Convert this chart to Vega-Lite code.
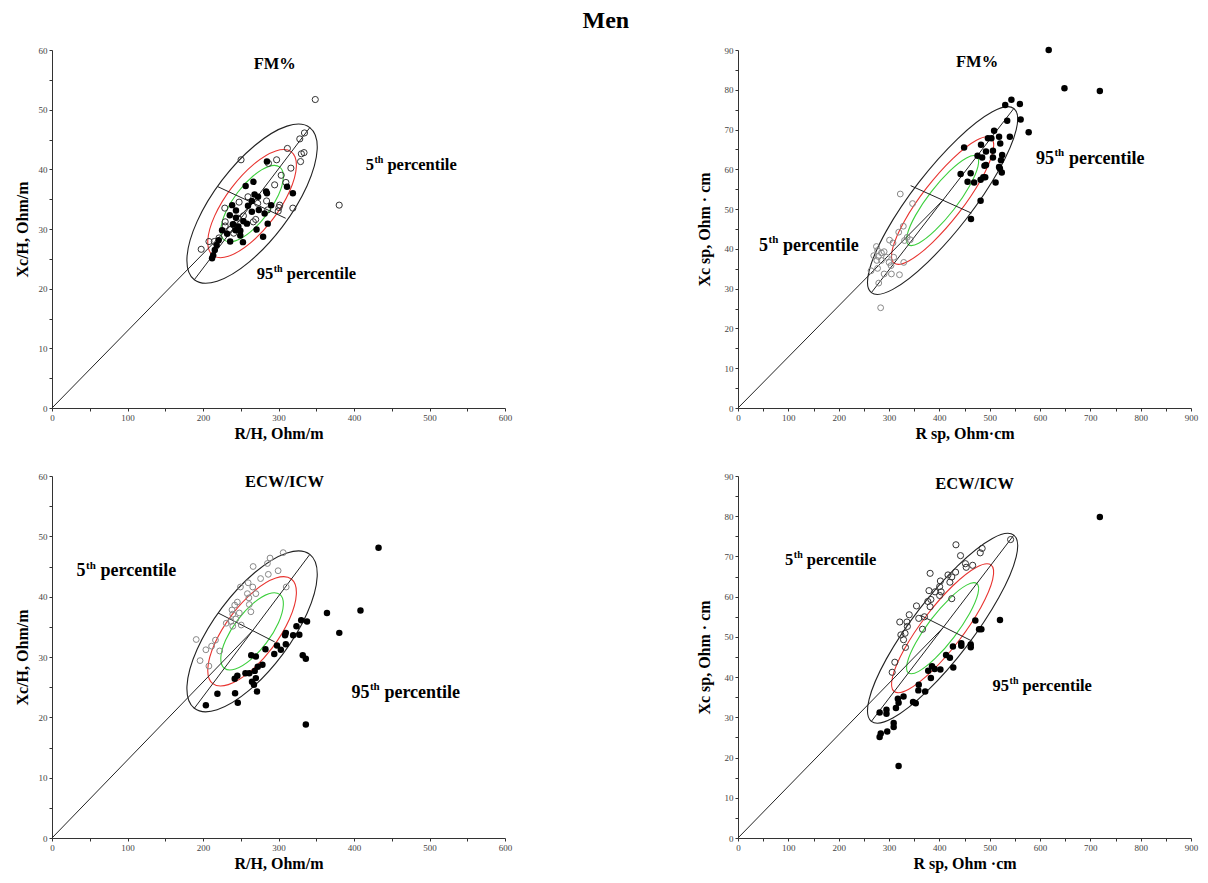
{
"$schema":"https://vega.github.io/schema/vega-lite/v6.json",
"background":"white",
"padding":{"left":14,"top":9,"right":5,"bottom":5},
"title":{"text":"Men","font":"Liberation Serif","fontSize":24,"fontWeight":"bold","color":"#000","anchor":"middle","offset":13},
"config":{"view":{"stroke":null},"axis":{"grid":false,"domainColor":"#333","tickColor":"#333","tickSize":3,"labelFont":"Liberation Serif","labelFontSize":9,"labelColor":"#444","labelPadding":2,"labelFlush":false,"labelOverlap":false,"titleFont":"Liberation Serif","titleFontSize":16,"titleFontWeight":"bold","titleColor":"#000"}},
"columns":2,
"spacing":{"row":68,"column":233},
"bounds":"flush",
"datasets":{
"ell_rh":[
{"lv":"95","i":0,"x":341.5,"y":47.0},{"lv":"95","i":1,"x":351.25,"y":43.35},{"lv":"95","i":2,"x":337.89,"y":37.26},{"lv":"95","i":3,"x":305.0,"y":30.36},{"lv":"95","i":4,"x":261.39,"y":24.5},{"lv":"95","i":5,"x":218.75,"y":21.26},{"lv":"95","i":6,"x":188.5,"y":21.5},{"lv":"95","i":7,"x":178.75,"y":25.15},{"lv":"95","i":8,"x":192.11,"y":31.24},{"lv":"95","i":9,"x":225.0,"y":38.14},{"lv":"95","i":10,"x":268.61,"y":44.0},{"lv":"95","i":11,"x":311.25,"y":47.24},
{"lv":"75","i":0,"x":317.0,"y":42.92},{"lv":"75","i":1,"x":323.65,"y":40.44},{"lv":"75","i":2,"x":314.57,"y":36.3},{"lv":"75","i":3,"x":292.2,"y":31.6},{"lv":"75","i":4,"x":262.55,"y":27.62},{"lv":"75","i":5,"x":233.55,"y":25.42},{"lv":"75","i":6,"x":212.98,"y":25.58},{"lv":"75","i":7,"x":206.35,"y":28.06},{"lv":"75","i":8,"x":215.43,"y":32.2},{"lv":"75","i":9,"x":237.8,"y":36.9},{"lv":"75","i":10,"x":267.45,"y":40.88},{"lv":"75","i":11,"x":296.45,"y":43.08},
{"lv":"50","i":0,"x":301.72,"y":40.37},{"lv":"50","i":1,"x":306.4,"y":38.62},{"lv":"50","i":2,"x":299.99,"y":35.69},{"lv":"50","i":3,"x":284.2,"y":32.38},{"lv":"50","i":4,"x":263.27,"y":29.57},{"lv":"50","i":5,"x":242.8,"y":28.01},{"lv":"50","i":6,"x":228.28,"y":28.13},{"lv":"50","i":7,"x":223.6,"y":29.88},{"lv":"50","i":8,"x":230.01,"y":32.81},{"lv":"50","i":9,"x":245.8,"y":36.12},{"lv":"50","i":10,"x":266.73,"y":38.93},{"lv":"50","i":11,"x":287.2,"y":40.49}
],
"ell_sp":[
{"lv":"95","i":0,"x":548.0,"y":75.3},{"lv":"95","i":1,"x":552.67,"y":69.91},{"lv":"95","i":2,"x":518.17,"y":59.77},{"lv":"95","i":3,"x":453.75,"y":47.58},{"lv":"95","i":4,"x":376.67,"y":36.62},{"lv":"95","i":5,"x":307.59,"y":29.82},{"lv":"95","i":6,"x":265.0,"y":29.0},{"lv":"95","i":7,"x":260.33,"y":34.39},{"lv":"95","i":8,"x":294.83,"y":44.53},{"lv":"95","i":9,"x":359.25,"y":56.72},{"lv":"95","i":10,"x":436.33,"y":67.68},{"lv":"95","i":11,"x":505.41,"y":74.48},
{"lv":"75","i":0,"x":502.72,"y":67.89},{"lv":"75","i":1,"x":505.9,"y":64.23},{"lv":"75","i":2,"x":482.44,"y":57.33},{"lv":"75","i":3,"x":438.63,"y":49.04},{"lv":"75","i":4,"x":386.22,"y":41.59},{"lv":"75","i":5,"x":339.24,"y":36.97},{"lv":"75","i":6,"x":310.28,"y":36.41},{"lv":"75","i":7,"x":307.1,"y":40.07},{"lv":"75","i":8,"x":330.56,"y":46.97},{"lv":"75","i":9,"x":374.37,"y":55.26},{"lv":"75","i":10,"x":426.78,"y":62.71},{"lv":"75","i":11,"x":473.76,"y":67.33},
{"lv":"50","i":0,"x":474.42,"y":63.26},{"lv":"50","i":1,"x":476.66,"y":60.67},{"lv":"50","i":2,"x":460.1,"y":55.81},{"lv":"50","i":3,"x":429.18,"y":49.96},{"lv":"50","i":4,"x":392.18,"y":44.7},{"lv":"50","i":5,"x":359.02,"y":41.43},{"lv":"50","i":6,"x":338.58,"y":41.04},{"lv":"50","i":7,"x":336.34,"y":43.63},{"lv":"50","i":8,"x":352.9,"y":48.49},{"lv":"50","i":9,"x":383.82,"y":54.34},{"lv":"50","i":10,"x":420.82,"y":59.6},{"lv":"50","i":11,"x":454.0,"y":62.87}
],
"seg":[
{"p":1,"s":"o","i":0,"x":0,"y":0},{"p":1,"s":"o","i":1,"x":265,"y":34.25},{"p":1,"s":"a","i":0,"x":188.5,"y":21.5},{"p":1,"s":"a","i":1,"x":341.5,"y":47.0},{"p":1,"s":"b","i":0,"x":219.5,"y":37.1},{"p":1,"s":"b","i":1,"x":309.5,"y":31.8},
{"p":2,"s":"o","i":0,"x":0,"y":0},{"p":2,"s":"o","i":1,"x":406.5,"y":52.15},{"p":2,"s":"a","i":0,"x":265,"y":29.0},{"p":2,"s":"a","i":1,"x":548,"y":75.3},{"p":2,"s":"b","i":0,"x":343,"y":55.9},{"p":2,"s":"b","i":1,"x":463.7,"y":49.0},
{"p":3,"s":"o","i":0,"x":0,"y":0},{"p":3,"s":"o","i":1,"x":265,"y":34.25},{"p":3,"s":"a","i":0,"x":188.5,"y":21.5},{"p":3,"s":"a","i":1,"x":341.5,"y":47.0},{"p":3,"s":"b","i":0,"x":220,"y":37.3},{"p":3,"s":"b","i":1,"x":295,"y":32.5},
{"p":4,"s":"o","i":0,"x":0,"y":0},{"p":4,"s":"o","i":1,"x":406.5,"y":52.15},{"p":4,"s":"a","i":0,"x":265,"y":29.0},{"p":4,"s":"a","i":1,"x":548,"y":75.3},{"p":4,"s":"b","i":0,"x":362,"y":55.4},{"p":4,"s":"b","i":1,"x":466,"y":48.9}
],
"pts":[
{"p":1,"f":0,"x":348.7,"y":51.7},{"p":1,"f":0,"x":380.4,"y":34.0},{"p":1,"f":0,"x":334.4,"y":46.1},{"p":1,"f":0,"x":328.2,"y":45.1},{"p":1,"f":0,"x":311.8,"y":43.5},{"p":1,"f":0,"x":330.3,"y":42.6},{"p":1,"f":0,"x":333.8,"y":42.8},{"p":1,"f":0,"x":329.2,"y":41.3},{"p":1,"f":0,"x":250.4,"y":41.6},{"p":1,"f":0,"x":286.7,"y":41.0},{"p":1,"f":0,"x":297.5,"y":41.6},{"p":1,"f":0,"x":316.4,"y":40.2},{"p":1,"f":0,"x":303.6,"y":39.0},{"p":1,"f":0,"x":309.8,"y":37.8},{"p":1,"f":0,"x":294.9,"y":37.4},{"p":1,"f":0,"x":319.0,"y":33.5},{"p":1,"f":0,"x":301.6,"y":34.0},{"p":1,"f":0,"x":300.6,"y":33.6},{"p":1,"f":0,"x":299.6,"y":33.0},{"p":1,"f":0,"x":284.2,"y":34.7},{"p":1,"f":0,"x":272.4,"y":34.3},{"p":1,"f":0,"x":259.6,"y":35.4},{"p":1,"f":0,"x":247.8,"y":34.5},{"p":1,"f":0,"x":228.9,"y":33.5},{"p":1,"f":0,"x":229.4,"y":31.2},{"p":1,"f":0,"x":229.4,"y":30.5},{"p":1,"f":0,"x":235.5,"y":29.9},{"p":1,"f":0,"x":240.7,"y":29.3},{"p":1,"f":0,"x":269.8,"y":31.6},{"p":1,"f":0,"x":266.6,"y":31.2},{"p":1,"f":0,"x":197.6,"y":26.6},{"p":1,"f":0,"x":207.9,"y":27.9},{"p":1,"f":0,"x":215.0,"y":27.9},{"p":1,"f":0,"x":221.2,"y":28.5},{"p":1,"f":0,"x":246.8,"y":31.8},{"p":1,"f":0,"x":240.7,"y":30.7},{"p":1,"f":0,"x":253.5,"y":32.2},{"p":1,"f":0,"x":285.7,"y":33.2},
{"p":1,"f":1,"x":284.7,"y":41.3},{"p":1,"f":1,"x":283.6,"y":36.3},{"p":1,"f":1,"x":284.7,"y":36.0},{"p":1,"f":1,"x":256.5,"y":37.2},{"p":1,"f":1,"x":266.8,"y":37.9},{"p":1,"f":1,"x":311.3,"y":37.1},{"p":1,"f":1,"x":319.0,"y":36.0},{"p":1,"f":1,"x":268.3,"y":35.8},{"p":1,"f":1,"x":272.9,"y":35.4},{"p":1,"f":1,"x":264.7,"y":34.7},{"p":1,"f":1,"x":259.6,"y":33.9},{"p":1,"f":1,"x":238.6,"y":34.0},{"p":1,"f":1,"x":290.3,"y":34.0},{"p":1,"f":1,"x":273.9,"y":33.2},{"p":1,"f":1,"x":281.6,"y":32.6},{"p":1,"f":1,"x":264.7,"y":32.9},{"p":1,"f":1,"x":243.7,"y":33.1},{"p":1,"f":1,"x":235.5,"y":32.3},{"p":1,"f":1,"x":243.7,"y":31.9},{"p":1,"f":1,"x":253.5,"y":31.3},{"p":1,"f":1,"x":258.2,"y":30.9},{"p":1,"f":1,"x":239.6,"y":30.8},{"p":1,"f":1,"x":246.8,"y":30.4},{"p":1,"f":1,"x":270.9,"y":29.9},{"p":1,"f":1,"x":285.7,"y":30.9},{"p":1,"f":1,"x":225.3,"y":29.8},{"p":1,"f":1,"x":232.0,"y":29.2},{"p":1,"f":1,"x":249.4,"y":29.7},{"p":1,"f":1,"x":249.4,"y":28.9},{"p":1,"f":1,"x":236.0,"y":27.9},{"p":1,"f":1,"x":252.9,"y":27.8},{"p":1,"f":1,"x":279.6,"y":28.7},{"p":1,"f":1,"x":220.7,"y":28.1},{"p":1,"f":1,"x":218.1,"y":27.3},{"p":1,"f":1,"x":215.6,"y":26.5},{"p":1,"f":1,"x":213.5,"y":25.6},{"p":1,"f":1,"x":212.0,"y":25.1},{"p":1,"f":1,"x":243.2,"y":29.8},
{"p":2,"f":1,"x":617.3,"y":90.0},{"p":2,"f":1,"x":648.6,"y":80.4},{"p":2,"f":1,"x":718.9,"y":79.7},{"p":2,"f":1,"x":543.2,"y":77.5},{"p":2,"f":1,"x":530.9,"y":76.2},{"p":2,"f":1,"x":560.0,"y":76.4},{"p":2,"f":1,"x":534.8,"y":72.2},{"p":2,"f":1,"x":561.5,"y":72.5},{"p":2,"f":1,"x":577.5,"y":69.3},{"p":2,"f":1,"x":508.8,"y":69.7},{"p":2,"f":1,"x":518.7,"y":68.2},{"p":2,"f":1,"x":540.1,"y":68.2},{"p":2,"f":1,"x":496.6,"y":67.8},{"p":2,"f":1,"x":503.4,"y":67.8},{"p":2,"f":1,"x":521.0,"y":66.5},{"p":2,"f":1,"x":482.8,"y":66.2},{"p":2,"f":1,"x":449.2,"y":65.5},{"p":2,"f":1,"x":492.7,"y":64.5},{"p":2,"f":1,"x":506.5,"y":64.7},{"p":2,"f":1,"x":475.9,"y":63.4},{"p":2,"f":1,"x":485.1,"y":63.0},{"p":2,"f":1,"x":524.8,"y":63.6},{"p":2,"f":1,"x":506.5,"y":63.0},{"p":2,"f":1,"x":522.5,"y":62.3},{"p":2,"f":1,"x":492.7,"y":61.1},{"p":2,"f":1,"x":489.7,"y":60.9},{"p":2,"f":1,"x":518.7,"y":60.6},{"p":2,"f":1,"x":520.3,"y":60.2},{"p":2,"f":1,"x":524.1,"y":59.2},{"p":2,"f":1,"x":442.3,"y":58.8},{"p":2,"f":1,"x":462.2,"y":59.0},{"p":2,"f":1,"x":487.4,"y":58.0},{"p":2,"f":1,"x":491.2,"y":58.0},{"p":2,"f":1,"x":482.0,"y":57.4},{"p":2,"f":1,"x":456.1,"y":56.9},{"p":2,"f":1,"x":469.1,"y":56.7},{"p":2,"f":1,"x":511.8,"y":56.7},{"p":2,"f":1,"x":482.0,"y":52.1},{"p":2,"f":1,"x":462.9,"y":47.5},
{"p":2,"f":0,"x":322.4,"y":53.8},{"p":2,"f":0,"x":346.8,"y":51.4},{"p":2,"f":0,"x":328.5,"y":45.7},{"p":2,"f":0,"x":319.3,"y":44.2},{"p":2,"f":0,"x":301.0,"y":42.2},{"p":2,"f":0,"x":307.9,"y":41.5},{"p":2,"f":0,"x":336.1,"y":42.9},{"p":2,"f":0,"x":342.2,"y":42.3},{"p":2,"f":0,"x":330.8,"y":42.1},{"p":2,"f":0,"x":275.0,"y":40.6},{"p":2,"f":0,"x":277.3,"y":39.6},{"p":2,"f":0,"x":285.0,"y":39.0},{"p":2,"f":0,"x":290.3,"y":39.3},{"p":2,"f":0,"x":269.7,"y":38.3},{"p":2,"f":0,"x":278.8,"y":38.1},{"p":2,"f":0,"x":294.9,"y":37.9},{"p":2,"f":0,"x":309.4,"y":37.9},{"p":2,"f":0,"x":285.0,"y":37.1},{"p":2,"f":0,"x":275.8,"y":37.1},{"p":2,"f":0,"x":300.2,"y":36.6},{"p":2,"f":0,"x":329.3,"y":36.6},{"p":2,"f":0,"x":304.0,"y":35.8},{"p":2,"f":0,"x":264.3,"y":34.5},{"p":2,"f":0,"x":277.3,"y":35.1},{"p":2,"f":0,"x":290.3,"y":33.7},{"p":2,"f":0,"x":304.8,"y":33.7},{"p":2,"f":0,"x":320.8,"y":33.5},{"p":2,"f":0,"x":279.6,"y":31.4},{"p":2,"f":0,"x":283.4,"y":25.2},
{"p":3,"f":0,"x":306.2,"y":47.3},{"p":3,"f":0,"x":288.8,"y":46.4},{"p":3,"f":0,"x":285.3,"y":45.5},{"p":3,"f":0,"x":266.4,"y":45.0},{"p":3,"f":0,"x":299.5,"y":44.3},{"p":3,"f":0,"x":286.5,"y":43.7},{"p":3,"f":0,"x":276.3,"y":43.0},{"p":3,"f":0,"x":259.8,"y":42.3},{"p":3,"f":0,"x":249.6,"y":41.6},{"p":3,"f":0,"x":265.9,"y":41.6},{"p":3,"f":0,"x":270.0,"y":40.5},{"p":3,"f":0,"x":258.8,"y":40.5},{"p":3,"f":0,"x":310.2,"y":41.6},{"p":3,"f":0,"x":260.8,"y":39.8},{"p":3,"f":0,"x":245.5,"y":39.1},{"p":3,"f":0,"x":242.0,"y":38.6},{"p":3,"f":0,"x":261.3,"y":38.7},{"p":3,"f":0,"x":238.4,"y":37.8},{"p":3,"f":0,"x":248.1,"y":37.3},{"p":3,"f":0,"x":263.4,"y":37.5},{"p":3,"f":0,"x":239.4,"y":37.1},{"p":3,"f":0,"x":243.5,"y":36.3},{"p":3,"f":0,"x":236.9,"y":35.9},{"p":3,"f":0,"x":230.8,"y":35.6},{"p":3,"f":0,"x":250.6,"y":35.3},{"p":3,"f":0,"x":239.4,"y":35.1},{"p":3,"f":0,"x":191.0,"y":32.9},{"p":3,"f":0,"x":216.5,"y":32.8},{"p":3,"f":0,"x":211.4,"y":31.8},{"p":3,"f":0,"x":203.8,"y":31.2},{"p":3,"f":0,"x":222.1,"y":31.0},{"p":3,"f":0,"x":196.1,"y":29.4},{"p":3,"f":0,"x":207.8,"y":28.5},
{"p":3,"f":1,"x":432.5,"y":48.1},{"p":3,"f":1,"x":408.6,"y":37.7},{"p":3,"f":1,"x":364.2,"y":37.3},{"p":3,"f":1,"x":380.5,"y":34.0},{"p":3,"f":1,"x":337.8,"y":35.9},{"p":3,"f":1,"x":330.1,"y":36.1},{"p":3,"f":1,"x":323.8,"y":35.1},{"p":3,"f":1,"x":319.4,"y":33.6},{"p":3,"f":1,"x":327.6,"y":33.7},{"p":3,"f":1,"x":309.7,"y":34.0},{"p":3,"f":1,"x":308.7,"y":33.6},{"p":3,"f":1,"x":309.7,"y":32.1},{"p":3,"f":1,"x":303.1,"y":31.2},{"p":3,"f":1,"x":298.0,"y":31.9},{"p":3,"f":1,"x":294.4,"y":30.5},{"p":3,"f":1,"x":332.1,"y":30.3},{"p":3,"f":1,"x":336.2,"y":29.7},{"p":3,"f":1,"x":282.7,"y":31.3},{"p":3,"f":1,"x":263.9,"y":30.3},{"p":3,"f":1,"x":270.0,"y":30.1},{"p":3,"f":1,"x":278.7,"y":28.7},{"p":3,"f":1,"x":272.5,"y":28.4},{"p":3,"f":1,"x":268.5,"y":27.7},{"p":3,"f":1,"x":261.3,"y":27.3},{"p":3,"f":1,"x":256.2,"y":27.3},{"p":3,"f":1,"x":270.0,"y":26.5},{"p":3,"f":1,"x":245.5,"y":26.9},{"p":3,"f":1,"x":242.0,"y":26.4},{"p":3,"f":1,"x":264.9,"y":25.9},{"p":3,"f":1,"x":267.5,"y":25.4},{"p":3,"f":1,"x":271.5,"y":24.3},{"p":3,"f":1,"x":219.1,"y":23.9},{"p":3,"f":1,"x":242.5,"y":24.0},{"p":3,"f":1,"x":246.1,"y":22.4},{"p":3,"f":1,"x":203.8,"y":22.0},{"p":3,"f":1,"x":336.2,"y":18.8},
{"p":4,"f":1,"x":718.9,"y":79.8},{"p":4,"f":1,"x":520.5,"y":54.2},{"p":4,"f":1,"x":471.5,"y":54.1},{"p":4,"f":1,"x":479.0,"y":51.9},{"p":4,"f":1,"x":483.5,"y":51.9},{"p":4,"f":1,"x":443.6,"y":48.4},{"p":4,"f":1,"x":443.6,"y":47.8},{"p":4,"f":1,"x":462.4,"y":48.1},{"p":4,"f":1,"x":462.4,"y":47.4},{"p":4,"f":1,"x":427.0,"y":47.6},{"p":4,"f":1,"x":413.4,"y":45.5},{"p":4,"f":1,"x":421.0,"y":44.8},{"p":4,"f":1,"x":385.5,"y":42.7},{"p":4,"f":1,"x":377.9,"y":41.6},{"p":4,"f":1,"x":390.7,"y":42.0},{"p":4,"f":1,"x":402.1,"y":41.9},{"p":4,"f":1,"x":427.7,"y":42.4},{"p":4,"f":1,"x":383.2,"y":39.8},{"p":4,"f":1,"x":359.1,"y":38.1},{"p":4,"f":1,"x":358.3,"y":36.7},{"p":4,"f":1,"x":371.9,"y":36.4},{"p":4,"f":1,"x":347.8,"y":33.8},{"p":4,"f":1,"x":353.1,"y":33.5},{"p":4,"f":1,"x":328.9,"y":35.2},{"p":4,"f":1,"x":317.6,"y":34.6},{"p":4,"f":1,"x":319.1,"y":33.6},{"p":4,"f":1,"x":313.8,"y":32.3},{"p":4,"f":1,"x":281.4,"y":31.2},{"p":4,"f":1,"x":295.0,"y":31.9},{"p":4,"f":1,"x":295.0,"y":30.9},{"p":4,"f":1,"x":309.3,"y":28.6},{"p":4,"f":1,"x":309.3,"y":27.6},{"p":4,"f":1,"x":296.5,"y":26.5},{"p":4,"f":1,"x":283.6,"y":26.0},{"p":4,"f":1,"x":281.4,"y":25.1},{"p":4,"f":1,"x":319.1,"y":17.9},
{"p":4,"f":0,"x":541.6,"y":74.2},{"p":4,"f":0,"x":433.0,"y":72.9},{"p":4,"f":0,"x":485.1,"y":72.0},{"p":4,"f":0,"x":481.3,"y":70.9},{"p":4,"f":0,"x":442.1,"y":70.2},{"p":4,"f":0,"x":451.9,"y":68.2},{"p":4,"f":0,"x":466.2,"y":67.8},{"p":4,"f":0,"x":453.4,"y":67.3},{"p":4,"f":0,"x":381.7,"y":65.8},{"p":4,"f":0,"x":432.3,"y":66.1},{"p":4,"f":0,"x":417.2,"y":65.4},{"p":4,"f":0,"x":424.7,"y":64.9},{"p":4,"f":0,"x":421.0,"y":63.6},{"p":4,"f":0,"x":402.1,"y":63.9},{"p":4,"f":0,"x":400.6,"y":62.5},{"p":4,"f":0,"x":379.4,"y":61.5},{"p":4,"f":0,"x":391.5,"y":61.2},{"p":4,"f":0,"x":403.6,"y":61.2},{"p":4,"f":0,"x":400.6,"y":60.3},{"p":4,"f":0,"x":424.7,"y":59.5},{"p":4,"f":0,"x":383.2,"y":59.3},{"p":4,"f":0,"x":377.1,"y":58.8},{"p":4,"f":0,"x":381.7,"y":57.5},{"p":4,"f":0,"x":354.6,"y":57.7},{"p":4,"f":0,"x":340.2,"y":55.5},{"p":4,"f":0,"x":359.1,"y":54.6},{"p":4,"f":0,"x":370.4,"y":55.0},{"p":4,"f":0,"x":335.7,"y":53.7},{"p":4,"f":0,"x":321.4,"y":53.7},{"p":4,"f":0,"x":336.5,"y":52.6},{"p":4,"f":0,"x":366.6,"y":51.9},{"p":4,"f":0,"x":331.9,"y":50.9},{"p":4,"f":0,"x":323.6,"y":50.5},{"p":4,"f":0,"x":328.9,"y":49.3},{"p":4,"f":0,"x":332.7,"y":47.4},{"p":4,"f":0,"x":311.6,"y":43.7},{"p":4,"f":0,"x":306.3,"y":41.2}
],
"txt":[{"p":1,"x":295,"y":57.6,"t":"FM%"},{"p":2,"x":475,"y":87.0,"t":"FM%"},{"p":3,"x":308,"y":59.0,"t":"ECW/ICW"},{"p":4,"x":470,"y":88.0,"t":"ECW/ICW"}],
"pct":[{"p":1,"n":"5","x":426.4,"y":40.7},{"p":1,"n":"95","x":293,"y":22.5},{"p":2,"n":"95","x":627.7,"y":62.6},{"p":2,"n":"5","x":59.8,"y":40.8},{"p":3,"n":"5","x":44.4,"y":44.2},{"p":3,"n":"95","x":420.4,"y":24.1},{"p":4,"n":"5","x":110,"y":69.2},{"p":4,"n":"95","x":538.6,"y":37.9}]
},
"concat":[
{"width":453,"height":358,
"encoding":{"x":{"field":"x","type":"quantitative","scale":{"domain":[0,600],"nice":false},"axis":{"title":"R/H, Ohm/m","values":[0,50,100,150,200,250,300,350,400,450,500,550,600],"labelExpr":"datum.value % 100 === 0 ? datum.label : ''","titlePadding":3}},
"y":{"field":"y","type":"quantitative","scale":{"domain":[0,60],"nice":false},"axis":{"title":"Xc/H, Ohm/m","values":[0,5,10,15,20,25,30,35,40,45,50,55,60],"labelExpr":"datum.value % 10 === 0 ? datum.label : ''","titlePadding":8}}},
"layer":[
{"data":{"name":"ell_rh"},"mark":{"type":"line","interpolate":"cardinal-closed","strokeWidth":1.1},"encoding":{"order":{"field":"i"},"detail":{"field":"lv"},"color":{"field":"lv","type":"nominal","scale":{"domain":["95","75","50"],"range":["#222222","#e8332f","#3ccf3c"]},"legend":null}}},
{"data":{"name":"seg"},"transform":[{"filter":"datum.p==1"}],"mark":{"type":"line","color":"#222","strokeWidth":1},"encoding":{"order":{"field":"i"},"detail":{"field":"s"}}},
{"data":{"name":"pts"},"transform":[{"filter":"datum.p==1 && datum.f==0"}],"mark":{"type":"point","shape":"circle","filled":false,"stroke":"#333","strokeWidth":1,"size":38,"opacity":1},"encoding":{}},
{"data":{"name":"pts"},"transform":[{"filter":"datum.p==1 && datum.f==1"}],"mark":{"type":"circle","color":"#000","size":42,"opacity":1},"encoding":{}},
{"data":{"name":"txt"},"transform":[{"filter":"datum.p==1"}],"mark":{"type":"text","font":"Liberation Serif","fontWeight":"bold","fontSize":16.5,"baseline":"middle","align":"center"},"encoding":{"text":{"field":"t"}}},
{"data":{"name":"pct"},"transform":[{"filter":"datum.p==1"}],"mark":{"type":"text","font":"Liberation Serif","fontWeight":"bold","fontSize":16.5,"baseline":"middle","align":"right"},"encoding":{"text":{"field":"n"}}},
{"data":{"name":"pct"},"transform":[{"filter":"datum.p==1"}],"mark":{"type":"text","text":"th","font":"Liberation Serif","fontWeight":"bold","fontSize":10,"baseline":"middle","align":"left","dx":0.5,"dy":-5},"encoding":{}},
{"data":{"name":"pct"},"transform":[{"filter":"datum.p==1"}],"mark":{"type":"text","text":"percentile","font":"Liberation Serif","fontWeight":"bold","fontSize":16.5,"baseline":"middle","align":"left","dx":13.5},"encoding":{}}
]},
{"width":453,"height":358,
"encoding":{"x":{"field":"x","type":"quantitative","scale":{"domain":[0,900],"nice":false},"axis":{"title":"R sp, Ohm·cm","values":[0,50,100,150,200,250,300,350,400,450,500,550,600,650,700,750,800,850,900],"labelExpr":"datum.value % 100 === 0 ? datum.label : ''","titlePadding":3}},
"y":{"field":"y","type":"quantitative","scale":{"domain":[0,90],"nice":false},"axis":{"title":"Xc sp, Ohm · cm","values":[0,5,10,15,20,25,30,35,40,45,50,55,60,65,70,75,80,85,90],"labelExpr":"datum.value % 10 === 0 ? datum.label : ''","titlePadding":12}}},
"layer":[
{"data":{"name":"ell_sp"},"mark":{"type":"line","interpolate":"cardinal-closed","strokeWidth":1.1},"encoding":{"order":{"field":"i"},"detail":{"field":"lv"},"color":{"field":"lv","type":"nominal","scale":{"domain":["95","75","50"],"range":["#222222","#e8332f","#3ccf3c"]},"legend":null}}},
{"data":{"name":"seg"},"transform":[{"filter":"datum.p==2"}],"mark":{"type":"line","color":"#222","strokeWidth":1},"encoding":{"order":{"field":"i"},"detail":{"field":"s"}}},
{"data":{"name":"pts"},"transform":[{"filter":"datum.p==2 && datum.f==0"}],"mark":{"type":"point","shape":"circle","filled":false,"stroke":"#888","strokeWidth":1,"size":34,"opacity":1},"encoding":{}},
{"data":{"name":"pts"},"transform":[{"filter":"datum.p==2 && datum.f==1"}],"mark":{"type":"circle","color":"#000","size":42,"opacity":1},"encoding":{}},
{"data":{"name":"txt"},"transform":[{"filter":"datum.p==2"}],"mark":{"type":"text","font":"Liberation Serif","fontWeight":"bold","fontSize":16.5,"baseline":"middle","align":"center"},"encoding":{"text":{"field":"t"}}},
{"data":{"name":"pct"},"transform":[{"filter":"datum.p==2"}],"mark":{"type":"text","font":"Liberation Serif","fontWeight":"bold","fontSize":18,"baseline":"middle","align":"right"},"encoding":{"text":{"field":"n"}}},
{"data":{"name":"pct"},"transform":[{"filter":"datum.p==2"}],"mark":{"type":"text","text":"th","font":"Liberation Serif","fontWeight":"bold","fontSize":11,"baseline":"middle","align":"left","dx":0.5,"dy":-5.5},"encoding":{}},
{"data":{"name":"pct"},"transform":[{"filter":"datum.p==2"}],"mark":{"type":"text","text":"percentile","font":"Liberation Serif","fontWeight":"bold","fontSize":18,"baseline":"middle","align":"left","dx":15},"encoding":{}}
]},
{"width":453,"height":362,
"encoding":{"x":{"field":"x","type":"quantitative","scale":{"domain":[0,600],"nice":false},"axis":{"title":"R/H, Ohm/m","values":[0,50,100,150,200,250,300,350,400,450,500,550,600],"labelExpr":"datum.value % 100 === 0 ? datum.label : ''","titlePadding":3}},
"y":{"field":"y","type":"quantitative","scale":{"domain":[0,60],"nice":false},"axis":{"title":"Xc/H, Ohm/m","values":[0,5,10,15,20,25,30,35,40,45,50,55,60],"labelExpr":"datum.value % 10 === 0 ? datum.label : ''","titlePadding":8}}},
"layer":[
{"data":{"name":"ell_rh"},"mark":{"type":"line","interpolate":"cardinal-closed","strokeWidth":1.1},"encoding":{"order":{"field":"i"},"detail":{"field":"lv"},"color":{"field":"lv","type":"nominal","scale":{"domain":["95","75","50"],"range":["#222222","#e8332f","#3ccf3c"]},"legend":null}}},
{"data":{"name":"seg"},"transform":[{"filter":"datum.p==3"}],"mark":{"type":"line","color":"#222","strokeWidth":1},"encoding":{"order":{"field":"i"},"detail":{"field":"s"}}},
{"data":{"name":"pts"},"transform":[{"filter":"datum.p==3 && datum.f==0"}],"mark":{"type":"point","shape":"circle","filled":false,"stroke":"#888","strokeWidth":1,"size":34,"opacity":1},"encoding":{}},
{"data":{"name":"pts"},"transform":[{"filter":"datum.p==3 && datum.f==1"}],"mark":{"type":"circle","color":"#000","size":42,"opacity":1},"encoding":{}},
{"data":{"name":"txt"},"transform":[{"filter":"datum.p==3"}],"mark":{"type":"text","font":"Liberation Serif","fontWeight":"bold","fontSize":16.5,"baseline":"middle","align":"center"},"encoding":{"text":{"field":"t"}}},
{"data":{"name":"pct"},"transform":[{"filter":"datum.p==3"}],"mark":{"type":"text","font":"Liberation Serif","fontWeight":"bold","fontSize":18,"baseline":"middle","align":"right"},"encoding":{"text":{"field":"n"}}},
{"data":{"name":"pct"},"transform":[{"filter":"datum.p==3"}],"mark":{"type":"text","text":"th","font":"Liberation Serif","fontWeight":"bold","fontSize":11,"baseline":"middle","align":"left","dx":0.5,"dy":-5.5},"encoding":{}},
{"data":{"name":"pct"},"transform":[{"filter":"datum.p==3"}],"mark":{"type":"text","text":"percentile","font":"Liberation Serif","fontWeight":"bold","fontSize":18,"baseline":"middle","align":"left","dx":15},"encoding":{}}
]},
{"width":453,"height":362,
"encoding":{"x":{"field":"x","type":"quantitative","scale":{"domain":[0,900],"nice":false},"axis":{"title":"R sp, Ohm ·cm","values":[0,50,100,150,200,250,300,350,400,450,500,550,600,650,700,750,800,850,900],"labelExpr":"datum.value % 100 === 0 ? datum.label : ''","titlePadding":3}},
"y":{"field":"y","type":"quantitative","scale":{"domain":[0,90],"nice":false},"axis":{"title":"Xc sp, Ohm · cm","values":[0,5,10,15,20,25,30,35,40,45,50,55,60,65,70,75,80,85,90],"labelExpr":"datum.value % 10 === 0 ? datum.label : ''","titlePadding":12}}},
"layer":[
{"data":{"name":"ell_sp"},"mark":{"type":"line","interpolate":"cardinal-closed","strokeWidth":1.1},"encoding":{"order":{"field":"i"},"detail":{"field":"lv"},"color":{"field":"lv","type":"nominal","scale":{"domain":["95","75","50"],"range":["#222222","#e8332f","#3ccf3c"]},"legend":null}}},
{"data":{"name":"seg"},"transform":[{"filter":"datum.p==4"}],"mark":{"type":"line","color":"#222","strokeWidth":1},"encoding":{"order":{"field":"i"},"detail":{"field":"s"}}},
{"data":{"name":"pts"},"transform":[{"filter":"datum.p==4 && datum.f==0"}],"mark":{"type":"point","shape":"circle","filled":false,"stroke":"#333","strokeWidth":1,"size":38,"opacity":1},"encoding":{}},
{"data":{"name":"pts"},"transform":[{"filter":"datum.p==4 && datum.f==1"}],"mark":{"type":"circle","color":"#000","size":42,"opacity":1},"encoding":{}},
{"data":{"name":"txt"},"transform":[{"filter":"datum.p==4"}],"mark":{"type":"text","font":"Liberation Serif","fontWeight":"bold","fontSize":16.5,"baseline":"middle","align":"center"},"encoding":{"text":{"field":"t"}}},
{"data":{"name":"pct"},"transform":[{"filter":"datum.p==4"}],"mark":{"type":"text","font":"Liberation Serif","fontWeight":"bold","fontSize":16.5,"baseline":"middle","align":"right"},"encoding":{"text":{"field":"n"}}},
{"data":{"name":"pct"},"transform":[{"filter":"datum.p==4"}],"mark":{"type":"text","text":"th","font":"Liberation Serif","fontWeight":"bold","fontSize":10,"baseline":"middle","align":"left","dx":0.5,"dy":-5},"encoding":{}},
{"data":{"name":"pct"},"transform":[{"filter":"datum.p==4"}],"mark":{"type":"text","text":"percentile","font":"Liberation Serif","fontWeight":"bold","fontSize":16.5,"baseline":"middle","align":"left","dx":13.5},"encoding":{}}
]}
]
}
